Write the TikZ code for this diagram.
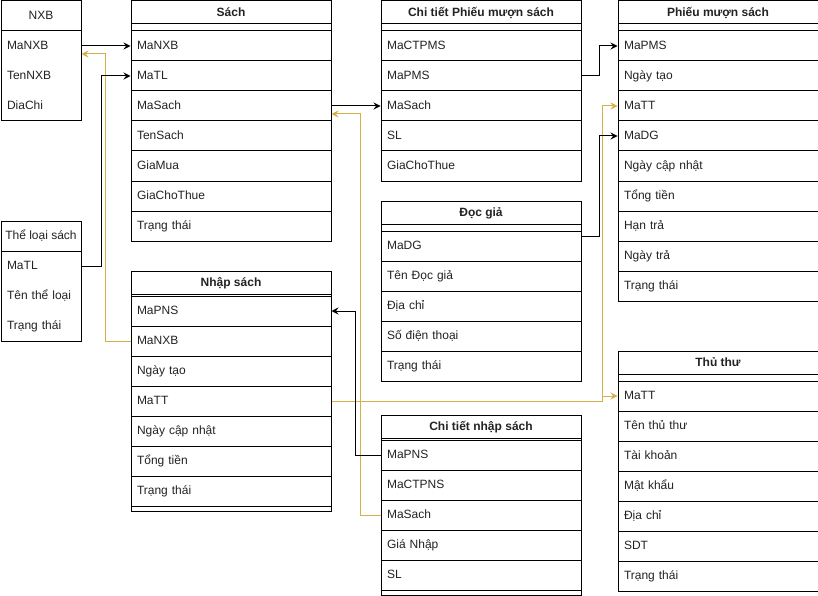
\documentclass[tikz,border=0pt]{standalone}
\usepackage{fontspec}
\setmainfont{Liberation Sans}
\usetikzlibrary{arrows.meta}

\definecolor{linkgold}{RGB}{212,176,72}
\definecolor{inkgray}{RGB}{35,35,35}

\tikzset{
  every node/.style={font=\fontsize{12pt}{14pt}\selectfont, text=inkgray},
  frame/.style={draw, rectangle, inner sep=0pt, anchor=north west, line width=1pt},
  hdr/.style={draw, rectangle, inner sep=0pt, anchor=north west, line width=1pt,
    minimum width=200pt, minimum height=23pt, text height=8.6pt, text depth=1.5pt,
    font=\fontsize{12pt}{14pt}\selectfont\bfseries},
  plainhdr/.style={draw, rectangle, inner sep=0pt, anchor=north west, line width=1pt,
    minimum width=80pt, minimum height=30pt, text height=8.6pt, text depth=1.5pt},
  cell/.style={draw, rectangle, anchor=north west, line width=1pt,
    inner xsep=6pt, inner ysep=0pt, minimum height=30pt,
    text width=#1, align=left, text height=8.6pt, text depth=2pt},
  fk/.style={draw=black, line width=1pt,
    -{Stealth[length=7pt,width=7pt,inset=2.5pt]}},
  fkgold/.style={fk, draw=linkgold, color=linkgold},
}

% Entity table: id, x, y, title, offset of the first row, frame height, rows
\newcommand{\erTable}[7]{%
  \node[frame, minimum width=200pt, minimum height=#6pt] (#1-frame) at (#2,#3) {};
  \node[hdr] (#1) at (#2,#3) {#4};
  \foreach \txt [count=\k] in {#7}{%
    \node[cell=188pt] (#1-\k) at (#2, #3+#5+30*\k-30) {\txt};
  }%
}

% Narrow table without row rules: id, x, y, title, rows
\newcommand{\plainTable}[5]{%
  \node[frame, minimum width=80pt, minimum height=120pt] (#1-frame) at (#2,#3) {};
  \node[plainhdr] (#1) at (#2,#3) {#4};
  \foreach \txt [count=\k] in {#5}{%
    \node[cell=68pt, draw=none] (#1-\k) at (#2, #3+30*\k) {\txt};
  }%
}

\begin{document}
\begin{tikzpicture}[x=1pt, y=-1pt]
  \fill[white] (0,0) rectangle (818,596);
  \useasboundingbox (0,0) rectangle (818,596);

  % tables
  \plainTable{nxb}{0.5}{0.5}{NXB}{MaNXB,TenNXB,DiaChi}
  \plainTable{tl}{0.5}{220.5}{Thể loại sách}{MaTL,Tên thể loại,Trạng thái}

  \erTable{sach}{130.5}{0.5}{Sách}{30}{240}
    {MaNXB,MaTL,MaSach,TenSach,GiaMua,GiaChoThue,Trạng thái}
  \erTable{ns}{130.5}{270.5}{Nhập sách}{25}{240}
    {MaPNS,MaNXB,Ngày tạo,MaTT,Ngày cập nhật,Tổng tiền,Trạng thái}

  \erTable{ctpms}{380.5}{0.5}{Chi tiết Phiếu mượn sách}{30}{180}
    {MaCTPMS,MaPMS,MaSach,SL,GiaChoThue}
  \erTable{dg}{380.5}{200.5}{Đọc giả}{30}{180}
    {MaDG,Tên Đọc giả,Địa chỉ,Số điện thoại,Trạng thái}
  \erTable{ctns}{380.5}{415}{Chi tiết nhập sách}{25}{180}
    {MaPNS,MaCTPNS,MaSach,Giá Nhập,SL}

  \erTable{pms}{617.5}{0.5}{Phiếu mượn sách}{30}{300}
    {MaPMS,Ngày tạo,MaTT,MaDG,Ngày cập nhật,Tổng tiền,Hạn trả,Ngày trả,Trạng thái}
  \erTable{tt}{617.5}{350.5}{Thủ thư}{30}{240}
    {MaTT,Tên thủ thư,Tài khoản,Mật khẩu,Địa chỉ,SDT,Trạng thái}

  % foreign-key links
  \draw[fkgold] (ns-4.east) -- ++(271,0) |- (pms-3.west);
  \draw[fkgold] (ns-4.east) -- ++(271,0) |- (tt-1.west);
  \draw[fkgold] (ns-2.west) -- ++(-25,0) |- ([yshift=-8pt]nxb-1.east);
  \draw[fkgold] (ctns-3.west) -- ++(-20,0) |- ([yshift=-8pt]sach-3.east);

  \draw[fk] (nxb-1.east) -- (sach-1.west);
  \draw[fk] (tl-1.east) -- ++(20,0) |- (sach-2.west);
  \draw[fk] (sach-3.east) -- (ctpms-3.west);
  \draw[fk] (ctpms-2.east) -- ++(18,0) |- (pms-1.west);
  \draw[fk] ([yshift=10pt]dg-1.east) -- ++(18,0) |- (pms-4.west);
  \draw[fk] (ctns-1.west) -- ++(-25,0) |- (ns-1.east);
\end{tikzpicture}
\end{document}
